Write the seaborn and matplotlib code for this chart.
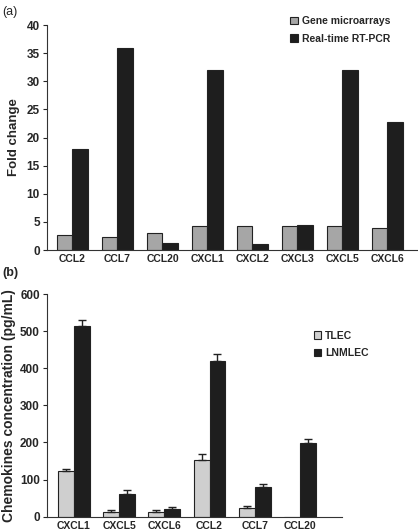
import numpy as np
import pandas as pd
import matplotlib
matplotlib.use('Agg')
import matplotlib.pyplot as plt
import seaborn as sns
from matplotlib.patches import Patch

# panel (a) data
genes_a = ['CCL2', 'CCL7', 'CCL20', 'CXCL1', 'CXCL2', 'CXCL3', 'CXCL5', 'CXCL6']
microarray = [2.7, 2.4, 3.0, 4.2, 4.3, 4.3, 4.3, 4.0]
rtpcr = [18.0, 36.0, 1.3, 32.0, 1.0, 4.5, 32.0, 22.7]

# panel (b) data
genes_b = ['CXCL1', 'CXCL5', 'CXCL6', 'CCL2', 'CCL7', 'CCL20']
tlec = [122, 12, 12, 153, 24, 0]
tlec_err = [7, 5, 5, 15, 5, 0]
lnmlec = [515, 62, 20, 420, 80, 198]
lnmlec_err = [16, 10, 7, 19, 7, 12]

sns.set_style('white')
plt.rcParams['font.family'] = ['Liberation Sans', 'DejaVu Sans']

df_a = pd.DataFrame({
    'gene': genes_a * 2,
    'value': microarray + rtpcr,
    'method': ['Gene microarrays'] * len(genes_a) + ['Real-time RT-PCR'] * len(genes_a),
})
df_b = pd.DataFrame({
    'gene': genes_b * 2,
    'value': tlec + lnmlec,
    'cell': ['TLEC'] * len(genes_b) + ['LNMLEC'] * len(genes_b),
})

fig = plt.figure(figsize=(4.18, 5.32), dpi=100)
ax1 = fig.add_axes([0.112, 0.530, 0.885, 0.423])
ax2 = fig.add_axes([0.112, 0.029, 0.706, 0.418])

pal_a = {'Gene microarrays': '#a6a6a6', 'Real-time RT-PCR': '#1e1e1e'}
pal_b = {'TLEC': '#cfcfcf', 'LNMLEC': '#1e1e1e'}

sns.barplot(data=df_a, x='gene', y='value', hue='method', palette=pal_a,
            width=0.7, edgecolor='#222222', linewidth=0.8, legend=False, ax=ax1)
sns.barplot(data=df_b, x='gene', y='value', hue='cell', palette=pal_b,
            width=0.7, edgecolor='#222222', linewidth=0.8, legend=False, ax=ax2)

# one-sided error bars
for cont, errs in zip(ax2.containers, [tlec_err, lnmlec_err]):
    for bar, e in zip(cont, errs):
        if e == 0:
            continue
        x = bar.get_x() + bar.get_width() / 2
        y = bar.get_height()
        ax2.errorbar([x], [y], yerr=[[0], [e]], fmt='none', ecolor='#222222',
                     elinewidth=1.0, capsize=3, capthick=1.0)

for ax in (ax1, ax2):
    sns.despine(ax=ax)
    ax.spines['left'].set_color('#333333')
    ax.spines['bottom'].set_color('#333333')
    ax.set_xlabel('')
    ax.tick_params(axis='x', length=0, pad=3, labelsize=7.5)
    ax.tick_params(axis='y', length=3, width=0.8, direction='out', left=True, labelsize=8.5, pad=2)
    for lab in ax.get_xticklabels() + ax.get_yticklabels():
        lab.set_fontweight('bold')

ax1.set_xlim(-0.57, 7.65)
ax1.set_ylim(0, 40)
ax1.set_yticks(range(0, 41, 5))
ax1.set_ylabel('Fold change', fontsize=9.5, fontweight='bold', labelpad=5)

ax2.set_xlim(-0.6, 5.93)
ax2.set_ylim(0, 600)
ax2.set_yticks(range(0, 601, 100))
ax2.set_ylabel('Chemokines concentration (pg/mL)', fontsize=10, fontweight='bold', labelpad=3)

leg_a = [Patch(facecolor=pal_a[k], edgecolor='#222222', linewidth=0.8, label=k) for k in pal_a]
ax1.legend(handles=leg_a, loc='upper left', bbox_to_anchor=(0.633, 1.08), frameon=False,
           handlelength=0.7, handleheight=0.7, handletextpad=0.4, labelspacing=0.7,
           prop={'size': 7.5, 'weight': 'bold'})
leg_b = [Patch(facecolor=pal_b[k], edgecolor='#222222', linewidth=0.8, label=k) for k in pal_b]
ax2.legend(handles=leg_b, loc='upper left', bbox_to_anchor=(0.873, 0.878), frameon=False,
           handlelength=0.7, handleheight=0.7, handletextpad=0.4, labelspacing=0.7,
           prop={'size': 7.5, 'weight': 'bold'})

fig.text(0.005, 0.978, '(a)', fontsize=9, va='center')
fig.text(0.005, 0.487, '(b)', fontsize=9, va='center', fontweight='bold')

fig.savefig('out.png', dpi=100)
